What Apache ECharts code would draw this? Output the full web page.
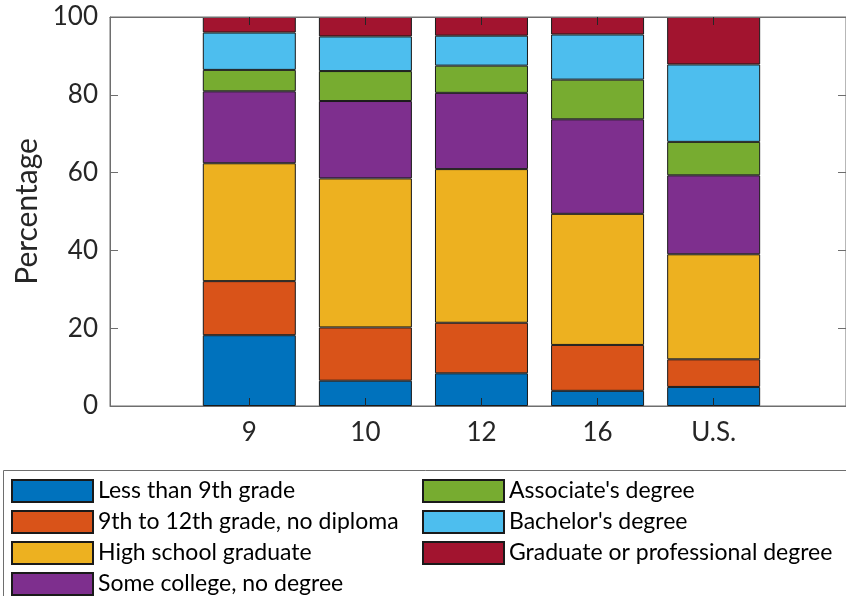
<!DOCTYPE html>
<html>
<head>
<meta charset="utf-8">
<script src="https://cdn.jsdelivr.net/npm/echarts@6/dist/echarts.min.js"></script>
<style>
html,body{margin:0;padding:0;background:#fff;}
#main{width:846px;height:596px;}
</style>
</head>
<body>
<div id="main"></div>
<script>
const categories = ['9', '10', '12', '16', 'U.S.'];
const seriesNames = [
  'Less than 9th grade',
  '9th to 12th grade, no diploma',
  'High school graduate',
  'Some college, no degree',
  "Associate's degree",
  "Bachelor's degree",
  'Graduate or professional degree'
];
const lessThan9th   = [18.2, 6.5, 8.4, 3.9, 4.9];
const grade9to12    = [13.9, 13.7, 13.0, 11.8, 7.1];
const highSchool    = [30.3, 38.3, 39.5, 33.7, 27.0];
const someCollege   = [18.5, 19.9, 19.6, 24.3, 20.3];
const associate     = [5.5, 7.7, 7.0, 10.2, 8.6];
const bachelor      = [9.6, 8.9, 7.7, 11.6, 19.9];
const graduate      = [4.0, 5.0, 4.8, 4.5, 12.2];
const yTicks = [0, 20, 40, 60, 80, 100];

const allValues = [lessThan9th, grade9to12, highSchool, someCollege, associate, bachelor, graduate];
const colors = ['#0072BD', '#D95319', '#EDB120', '#7E2F8E', '#77AC30', '#4DBEEE', '#A2142F'];
const positions = categories.map((c, i) => i + 1);

const FONT = 'Lato';
const TXT = '#262626';
const AX = '#6e6e6e';

const series = seriesNames.map((name, si) => ({
  name: name,
  type: 'bar',
  stack: 'total',
  barWidth: 93,
  encode: { x: 1, y: 0 },
  itemStyle: { color: colors[si], borderColor: '#1a1a1a', borderWidth: 1 },
  emphasis: { disabled: true },
  data: allValues[si].map((v, i) => [v, positions[i]])
}));

const legendCommon = {
  orient: 'vertical', top: 479, padding: 0, height: 117,
  itemWidth: 81, itemHeight: 22, itemGap: 7,
  icon: 'rect', selectedMode: false,
  textStyle: { fontSize: 23, lineHeight: 22, color: '#000', fontFamily: FONT }
};

const chart = echarts.init(document.getElementById('main'), null, { renderer: 'canvas' });
chart.setOption({
  animation: false,
  backgroundColor: '#fff',
  textStyle: { fontFamily: FONT },
  grid: { left: 110, top: 17, right: -1, bottom: 190, show: true, borderColor: AX, borderWidth: 1, backgroundColor: 'transparent' },
  xAxis: [{
    type: 'value', min: -0.2, max: 6.14, position: 'bottom', z: 5,
    splitLine: { show: false },
    axisLine: { show: true, onZero: false, lineStyle: { color: AX } },
    axisTick: { show: true, inside: true, length: 8, lineStyle: { color: TXT }, customValues: positions },
    axisLabel: { show: true, fontSize: 26, color: TXT, fontFamily: FONT, margin: 14, customValues: positions,
      formatter: v => categories[Math.round(v) - 1] }
  }, {
    type: 'value', min: -0.2, max: 6.14, position: 'top', z: 5,
    splitLine: { show: false },
    axisLine: { show: true, onZero: false, lineStyle: { color: AX } },
    axisTick: { show: true, inside: true, length: 8, lineStyle: { color: TXT }, customValues: positions },
    axisLabel: { show: false, customValues: positions }
  }],
  yAxis: [{
    type: 'value', min: 0, max: 100, interval: 20, position: 'left', z: 5,
    name: 'Percentage', nameLocation: 'middle', nameGap: 68,
    nameTextStyle: { fontSize: 30, color: TXT, fontFamily: FONT },
    splitLine: { show: false },
    axisLine: { show: true, onZero: false, lineStyle: { color: AX } },
    axisTick: { show: true, inside: true, length: 8, lineStyle: { color: AX } },
    axisLabel: { fontSize: 26, color: TXT, fontFamily: FONT, margin: 12, formatter: v => String(v) }
  }, {
    type: 'value', min: 0, max: 100, interval: 20, position: 'right', z: 5,
    splitLine: { show: false },
    axisLine: { show: false, onZero: false },
    axisTick: { show: true, inside: true, length: 8, lineStyle: { color: AX } },
    axisLabel: { show: false }
  }],
  legend: [
    Object.assign({}, legendCommon, { data: seriesNames.slice(0, 4), left: 11 }),
    Object.assign({}, legendCommon, { data: seriesNames.slice(4), left: 422 })
  ],
  graphic: [{
    type: 'rect', left: 3, top: 470, z: -1,
    shape: { width: 860, height: 140 },
    style: { fill: '#fff', stroke: '#6e6e6e', lineWidth: 1 }
  }],
  series: series
});
</script>
</body>
</html>
